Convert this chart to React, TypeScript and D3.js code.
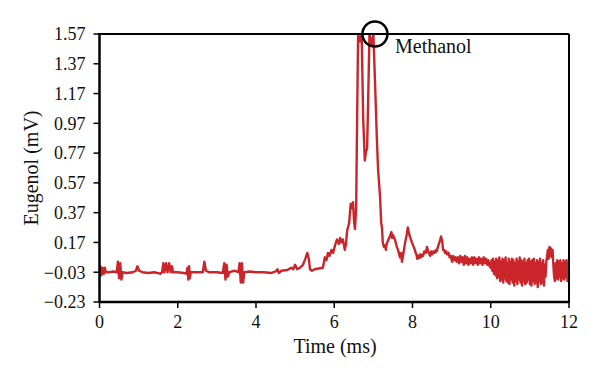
import React from "react";
import * as d3 from "d3";

// Tick values
const xTicks = [0, 2, 4, 6, 8, 10, 12];
const yTicks = [-0.23, -0.03, 0.17, 0.37, 0.57, 0.77, 0.97, 1.17, 1.37, 1.57];

// Signal segments: [time (ms), eugenol (mV)]
const baseline: [number, number][] = [
  [0.0, -0.02], [0.02, 0.01], [0.05, -0.05], [0.08, 0.0], [0.11, -0.04], [0.14, 0.0], [0.16, -0.03],
  [0.25, -0.03], [0.35, -0.025], [0.44, -0.03], [0.47, 0.04], [0.5, -0.07], [0.53, 0.03], [0.56, -0.08],
  [0.59, -0.03], [0.7, -0.035], [0.85, -0.03], [0.93, -0.02], [0.97, 0.01], [1.01, -0.02], [1.1, -0.03],
  [1.25, -0.035], [1.4, -0.03], [1.55, -0.04], [1.6, -0.03], [1.63, 0.03], [1.66, -0.03], [1.7, 0.03],
  [1.74, -0.03], [1.78, 0.03], [1.82, -0.03], [1.85, 0.01], [1.88, -0.03], [2.0, -0.03], [2.15, -0.035],
  [2.22, -0.04], [2.25, 0.0], [2.27, -0.08], [2.29, 0.01], [2.31, -0.07], [2.33, -0.03], [2.5, -0.03],
  [2.64, -0.03], [2.68, 0.04], [2.72, -0.02], [2.8, -0.03], [3.0, -0.03], [3.15, -0.035], [3.19, 0.03],
  [3.22, -0.08], [3.25, 0.02], [3.28, -0.06], [3.32, -0.03], [3.45, -0.02], [3.55, -0.03], [3.58, 0.03],
  [3.61, -0.1], [3.64, 0.03], [3.67, -0.1], [3.7, -0.03], [3.85, -0.025], [4.0, -0.03], [4.2, -0.03],
  [4.4, -0.035], [4.5, -0.025], [4.55, -0.01], [4.58, -0.035], [4.65, -0.02], [4.8, -0.015], [4.9, 0.0],
  [4.95, -0.01], [5.0, 0.02], [5.05, -0.01], [5.12, 0.0],
];

const rise: [number, number][] = [
  [5.2, 0.02], [5.26, 0.06], [5.31, 0.1], [5.35, 0.06], [5.38, -0.01], [5.43, -0.02], [5.5, -0.01],
  [5.6, -0.005], [5.71, 0.0], [5.76, 0.07], [5.8, 0.05], [5.84, 0.1], [5.88, 0.08], [5.93, 0.12],
  [5.97, 0.1], [6.02, 0.15], [6.07, 0.19], [6.12, 0.16], [6.15, 0.2], [6.19, 0.17], [6.22, 0.19],
  [6.27, 0.12], [6.3, 0.16], [6.33, 0.25], [6.38, 0.3], [6.42, 0.43], [6.46, 0.4], [6.48, 0.44],
  [6.51, 0.3], [6.53, 0.26], [6.56, 0.4],
];

const peaks: [number, number][] = [
  [6.58, 0.9], [6.61, 1.57], [6.66, 1.52], [6.7, 1.57], [6.74, 1.0], [6.78, 0.72], [6.81, 0.78],
  [6.84, 0.8], [6.86, 1.04], [6.9, 1.57], [6.96, 1.5], [7.0, 1.57], [7.04, 1.26],
];

const decay: [number, number][] = [
  [7.09, 0.86], [7.12, 0.66], [7.17, 0.48], [7.2, 0.3], [7.22, 0.27], [7.24, 0.17], [7.27, 0.14],
  [7.3, 0.15], [7.32, 0.12], [7.34, 0.16], [7.37, 0.18], [7.42, 0.21], [7.46, 0.24], [7.48, 0.2],
  [7.5, 0.22], [7.55, 0.19], [7.58, 0.16], [7.6, 0.14], [7.63, 0.12], [7.66, 0.09], [7.68, 0.07],
  [7.71, 0.1], [7.73, 0.04], [7.77, 0.1], [7.81, 0.167], [7.85, 0.22], [7.88, 0.27], [7.92, 0.22],
  [7.96, 0.19], [7.99, 0.167], [8.03, 0.14], [8.06, 0.12], [8.08, 0.1], [8.1, 0.09], [8.12, 0.06],
  [8.14, 0.08], [8.17, 0.065], [8.19, 0.09], [8.22, 0.07], [8.24, 0.087], [8.27, 0.08], [8.3, 0.11],
  [8.34, 0.1], [8.37, 0.14], [8.4, 0.11], [8.42, 0.1], [8.45, 0.08], [8.48, 0.11], [8.5, 0.09],
  [8.54, 0.11], [8.57, 0.1], [8.6, 0.12], [8.62, 0.11], [8.65, 0.14], [8.7, 0.18], [8.73, 0.21],
  [8.76, 0.18], [8.78, 0.12], [8.81, 0.12], [8.83, 0.1], [8.86, 0.11], [8.88, 0.09], [8.92, 0.1],
  [8.95, 0.07], [8.98, 0.08], [9.01, 0.04], [9.04, 0.08], [9.07, 0.05], [9.1, 0.07], [9.13, 0.04],
];

const tail: [number, number][] = [
  [9.16, 0.07], [9.19, 0.03], [9.22, 0.08], [9.25, 0.04], [9.28, 0.07], [9.31, 0.02], [9.34, 0.08],
  [9.37, 0.03], [9.4, 0.07], [9.43, 0.02], [9.46, 0.06], [9.49, 0.03], [9.52, 0.07], [9.55, 0.02],
  [9.58, 0.07], [9.61, 0.03], [9.64, 0.06], [9.67, 0.02], [9.7, 0.07], [9.73, 0.03], [9.76, 0.06],
  [9.79, 0.02], [9.82, 0.07], [9.85, 0.03], [9.88, 0.06], [9.91, 0.02], [9.94, 0.05], [9.97, 0.01],
  [10.0, 0.0], [10.02, 0.05], [10.04, -0.02], [10.06, 0.06], [10.08, -0.04], [10.1, 0.04], [10.12, -0.05],
  [10.14, 0.06], [10.16, -0.07], [10.18, 0.05], [10.2, -0.06], [10.22, 0.07], [10.24, -0.09], [10.26, 0.04],
  [10.28, -0.08], [10.3, 0.06], [10.32, -0.1], [10.34, 0.05], [10.36, -0.07], [10.38, 0.07], [10.4, -0.09],
  [10.42, 0.03], [10.44, -0.1], [10.46, 0.06], [10.48, -0.11], [10.5, 0.04], [10.52, -0.08], [10.54, 0.06],
  [10.56, -0.1], [10.58, 0.05], [10.6, -0.12], [10.62, 0.03], [10.64, -0.09], [10.66, 0.06], [10.68, -0.11],
  [10.7, 0.04], [10.72, -0.08], [10.74, 0.07], [10.76, -0.1], [10.78, 0.05], [10.8, -0.12], [10.82, 0.04],
  [10.84, -0.09], [10.86, 0.06], [10.88, -0.11], [10.9, 0.03], [10.92, -0.1], [10.94, 0.05], [10.96, -0.08],
  [10.98, 0.06], [11.0, -0.11], [11.02, 0.04], [11.04, -0.12], [11.06, 0.05], [11.08, -0.09], [11.1, 0.06],
  [11.12, -0.11], [11.14, 0.03], [11.16, -0.1], [11.18, 0.05], [11.2, -0.13], [11.22, 0.04], [11.24, -0.09],
  [11.26, 0.06], [11.28, -0.11], [11.3, 0.03], [11.32, -0.1], [11.34, 0.05], [11.36, -0.12], [11.38, 0.02],
  [11.4, -0.06], [11.42, 0.04], [11.44, 0.08], [11.46, 0.12], [11.48, 0.06], [11.5, 0.14], [11.52, 0.08],
  [11.54, 0.13], [11.56, 0.07], [11.58, 0.12], [11.6, 0.02], [11.62, -0.06], [11.64, -0.09], [11.66, 0.03],
  [11.68, -0.07], [11.7, 0.05], [11.72, -0.08], [11.74, 0.04], [11.76, -0.06], [11.78, 0.05], [11.8, -0.09],
  [11.82, 0.03], [11.84, -0.07], [11.86, 0.05], [11.88, -0.08], [11.9, 0.04], [11.92, -0.06], [11.94, 0.05],
  [11.96, -0.09], [11.98, 0.03], [12.0, -0.05],
];

const signal = [...baseline, ...rise, ...peaks, ...decay, ...tail];

const W = 600;
const H = 380;
const M = { left: 99.5, top: 34, right: 31, bottom: 78 };
const FONT = "'Liberation Serif', 'Times New Roman', serif";
const RED = "#c9252b";

export default function App() {
  const x = d3.scaleLinear().domain([0, 12]).range([M.left, W - M.right]);
  const y = d3.scaleLinear().domain([-0.23, 1.57]).range([H - M.bottom, M.top]);
  const line = d3
    .line<[number, number]>()
    .x((d) => x(d[0]))
    .y((d) => y(d[1]));

  const x0 = x(0);
  const x1 = x(12);
  const y0 = y(-0.23);
  const y1 = y(1.57);

  return (
    <svg width={W} height={H} style={{ position: "absolute", left: 0, top: 0, background: "#fff" }}>
      <defs>
        <clipPath id="plot">
          <rect x={x0} y={y1 - 1} width={x1 - x0} height={y0 - y1 + 1} />
        </clipPath>
      </defs>
      <rect width={W} height={H} fill="#fff" />
      <path
        d={line(signal) || ""}
        fill="none"
        stroke={RED}
        strokeWidth={2.4}
        strokeLinejoin="round"
        clipPath="url(#plot)"
      />
      {/* frame */}
      <line x1={x0} x2={x1} y1={y1} y2={y1} stroke="#000" strokeWidth={2} />
      <line x1={x1} x2={x1} y1={y1} y2={y0} stroke="#000" strokeWidth={2} />
      <line x1={x0} x2={x1 + 1} y1={y0} y2={y0} stroke="#000" strokeWidth={2.5} />
      <line x1={x0} x2={x0} y1={y1 - 1} y2={y0 + 1} stroke="#000" strokeWidth={2.5} />
      {/* y ticks */}
      {yTicks.map((t) => (
        <g key={"y" + t}>
          <line x1={x0 - 6} x2={x0} y1={y(t)} y2={y(t)} stroke="#000" strokeWidth={1.5} />
          <text
            x={x0 - 14}
            y={y(t)}
            dy="0.35em"
            textAnchor="end"
            fontFamily={FONT}
            fontSize={18}
            fill="#111"
          >
            {t < 0 ? "\u2212" + Math.abs(t).toFixed(2) : t.toFixed(2)}
          </text>
        </g>
      ))}
      {/* x ticks */}
      {xTicks.map((t) => (
        <g key={"x" + t}>
          <line x1={x(t)} x2={x(t)} y1={y0} y2={y0 + 6} stroke="#000" strokeWidth={1.5} />
          <text x={x(t)} y={y0 + 26} textAnchor="middle" fontFamily={FONT} fontSize={18} fill="#111">
            {t}
          </text>
        </g>
      ))}
      <text x={335} y={353} textAnchor="middle" fontFamily={FONT} fontSize={20} fill="#111">
        Time (ms)
      </text>
      <text
        transform={`translate(38, ${(y0 + y1) / 2}) rotate(-90)`}
        textAnchor="middle"
        fontFamily={FONT}
        fontSize={20}
        fill="#111"
      >
        Eugenol (mV)
      </text>
      {/* annotation */}
      <circle cx={x(7.04)} cy={y1} r={12.5} fill="none" stroke="#000" strokeWidth={2.5} />
      <text x={395} y={53} fontFamily={FONT} fontSize={20} fill="#111">
        Methanol
      </text>
    </svg>
  );
}
